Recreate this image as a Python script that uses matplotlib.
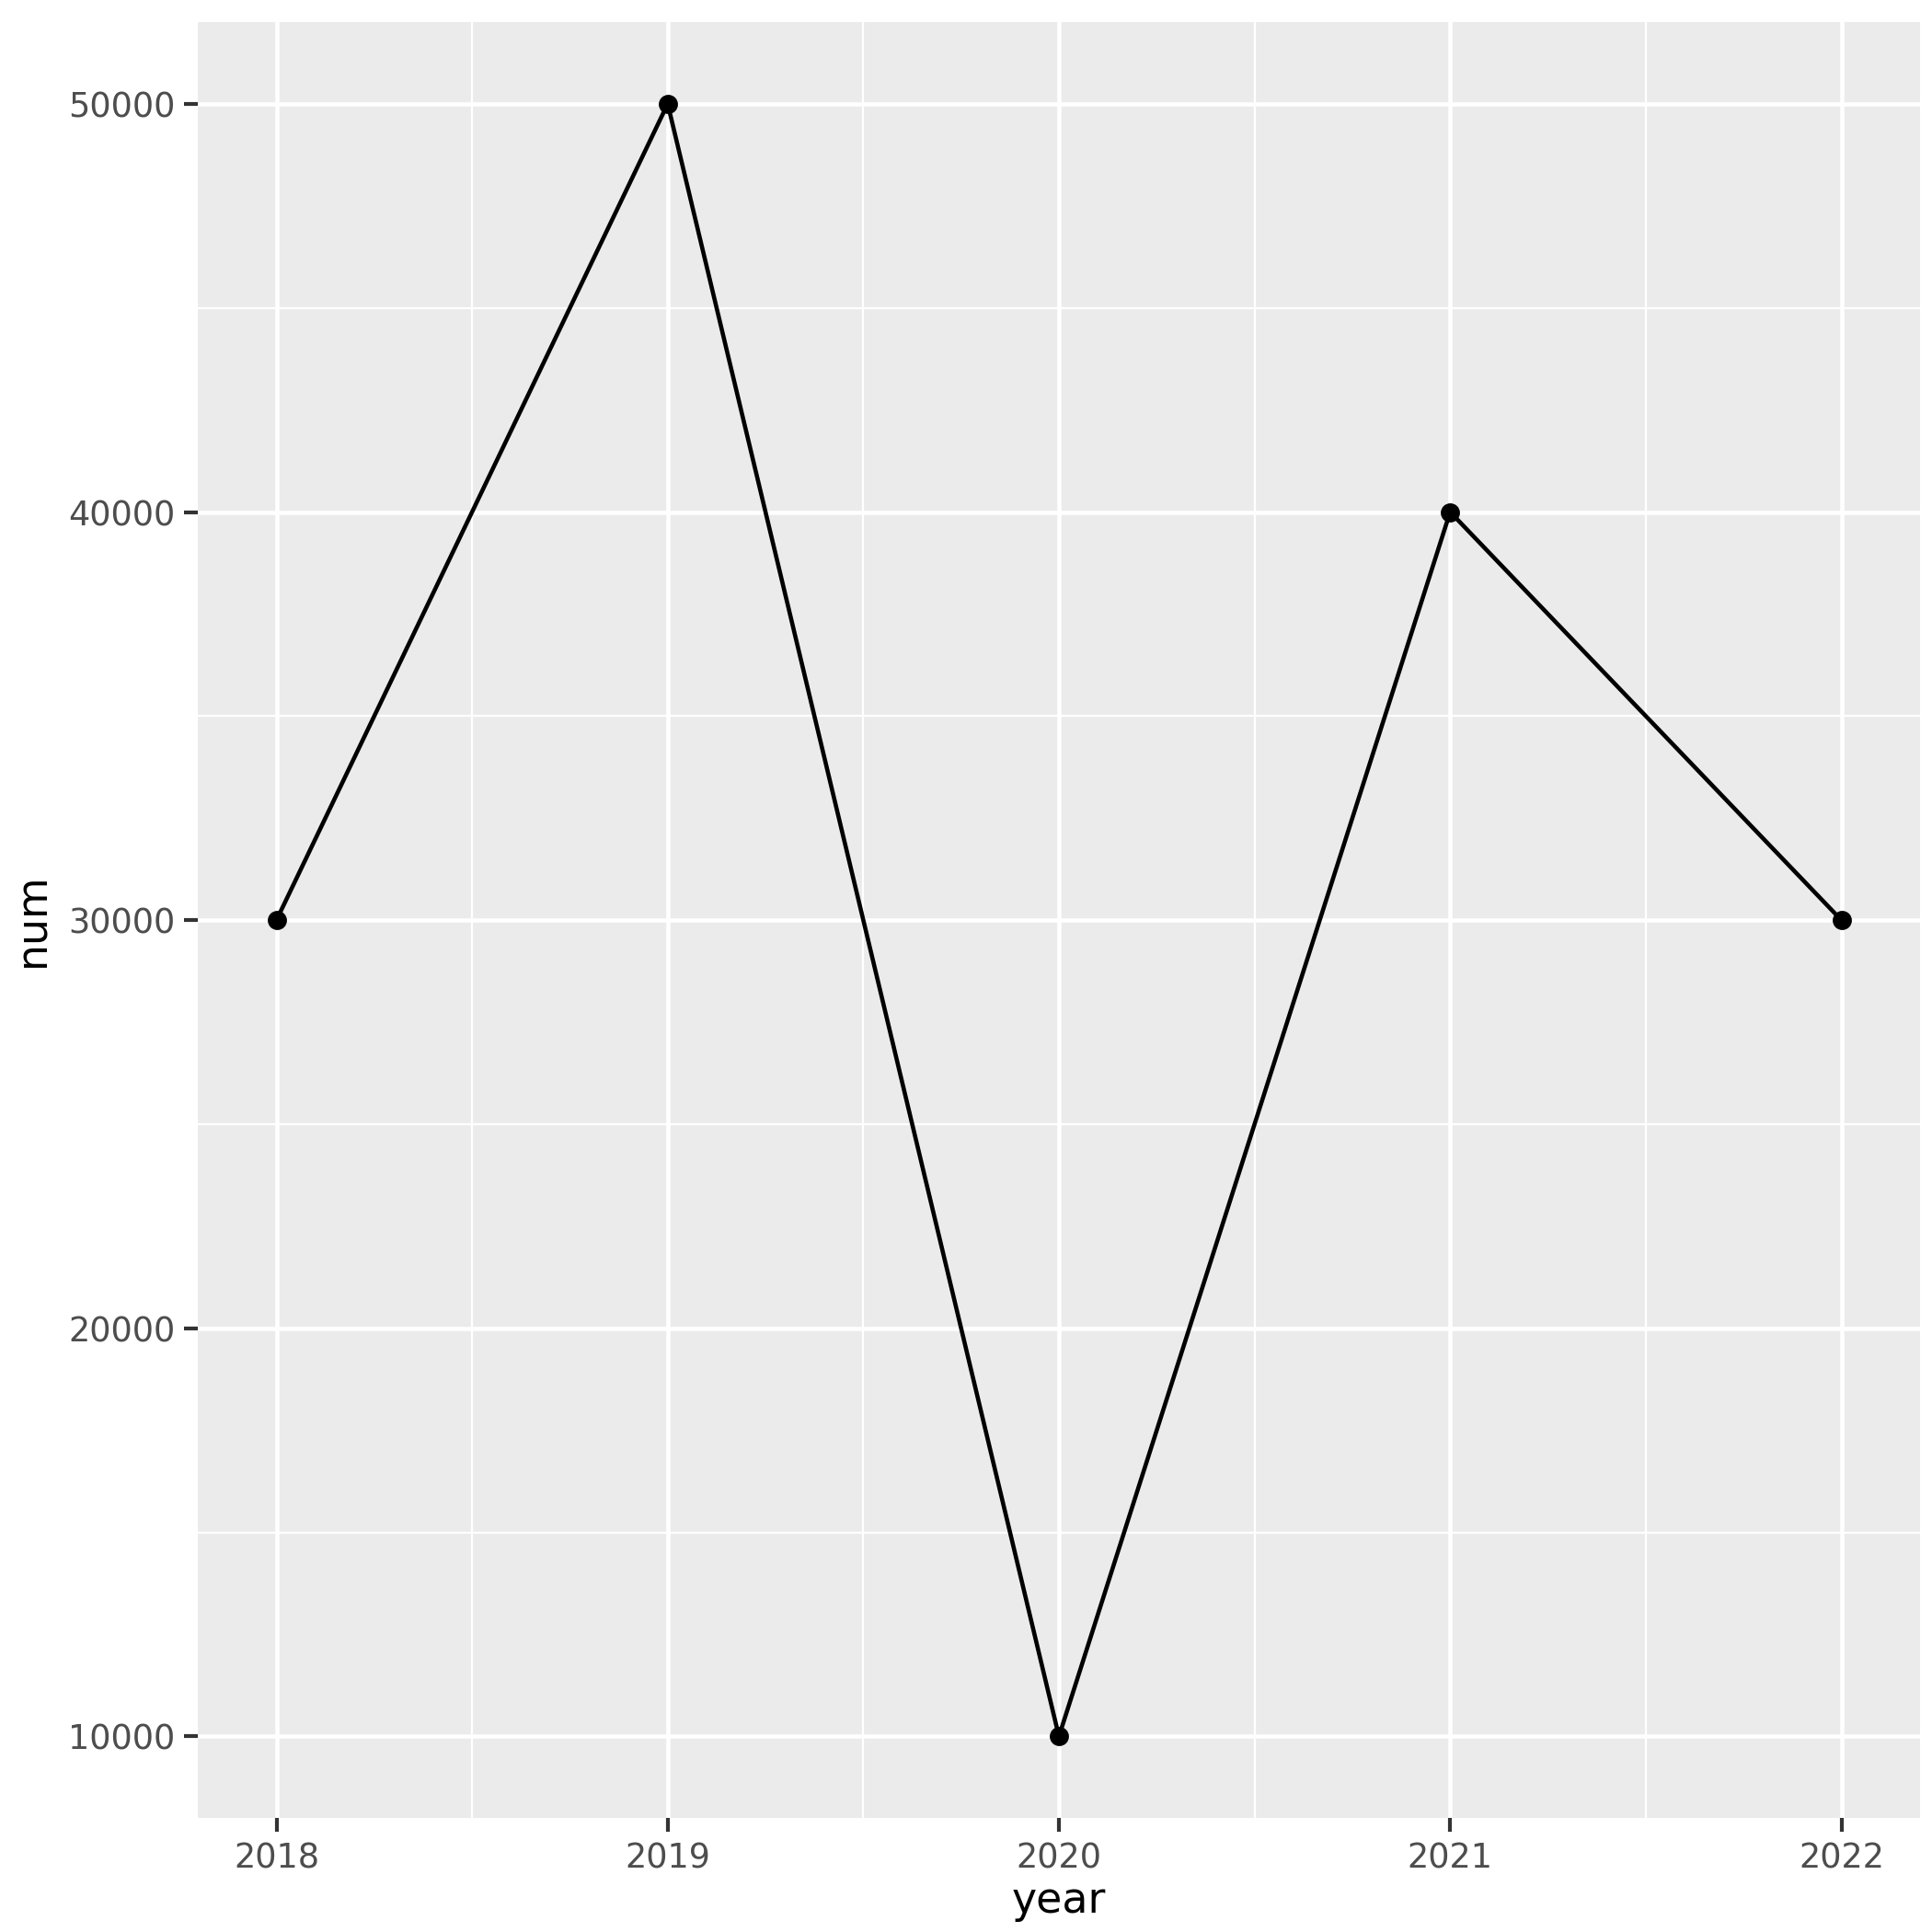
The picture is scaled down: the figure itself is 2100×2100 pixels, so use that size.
import matplotlib
matplotlib.use('Agg')
import matplotlib.pyplot as plt
from matplotlib.ticker import MultipleLocator

# data
years = [2018, 2019, 2020, 2021, 2022]
num = [30000, 50000, 10000, 40000, 30000]

fig = plt.figure(figsize=(7, 7), dpi=300)
ax = fig.add_axes([0.1026, 0.059, 0.891, 0.9295])
ax.set_facecolor('#EBEBEB')
for s in ax.spines.values():
    s.set_visible(False)

ax.set_xlim(2017.8, 2022.2)
ax.set_ylim(8000, 52000)
ax.xaxis.set_major_locator(MultipleLocator(1))
ax.xaxis.set_minor_locator(MultipleLocator(0.5))
ax.yaxis.set_major_locator(MultipleLocator(10000))
ax.yaxis.set_minor_locator(MultipleLocator(5000))

ax.grid(which='major', color='white', linewidth=1.1)
ax.grid(which='minor', color='white', linewidth=0.55)
ax.set_axisbelow(True)

ax.tick_params(which='major', length=3.5, width=1.0, color='#333333',
               labelcolor='#4D4D4D', labelsize=8.8, pad=2.5)
ax.tick_params(which='minor', length=0)

ax.plot(years, num, color='black', linewidth=1.1, zorder=3)
ax.scatter(years, num, color='black', s=16, zorder=4)

ax.set_xlabel('year', fontsize=11, labelpad=1.5)
ax.set_ylabel('num', fontsize=11, labelpad=4)

plt.savefig('out.png', dpi=300)
